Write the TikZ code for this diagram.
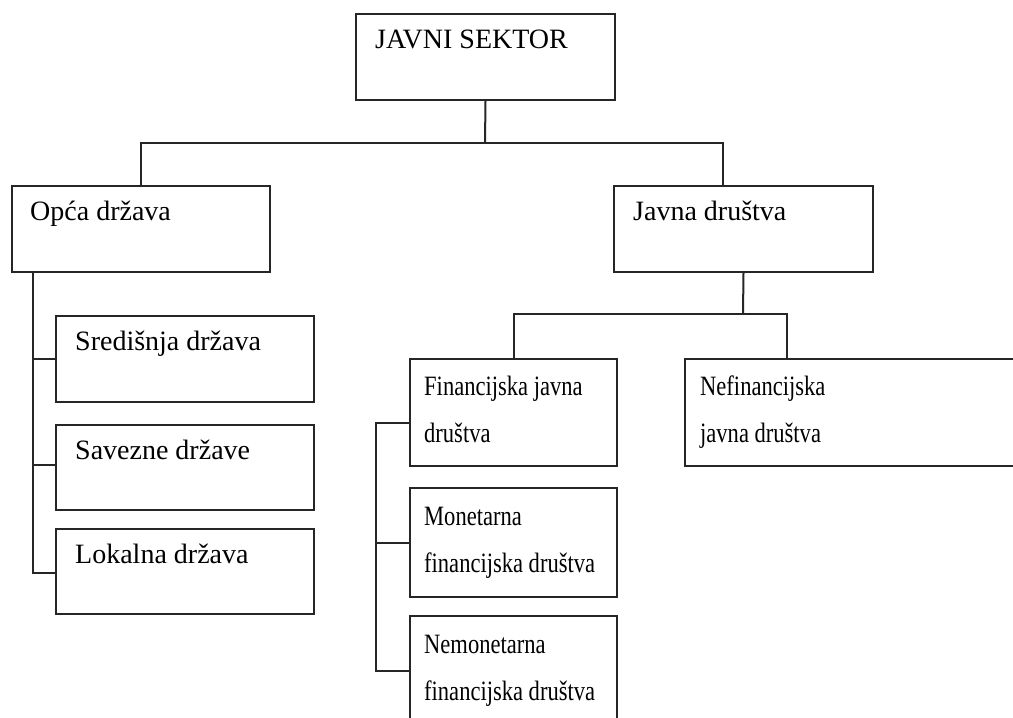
\documentclass[tikz,border=0pt]{standalone}
\usepackage{fontspec}
\setmainfont{Liberation Serif}
\newfontfamily\condser[FakeStretch=0.805]{Liberation Serif}
\usetikzlibrary{calc}
\begin{document}
\begin{tikzpicture}[x=1pt,y=-1pt,
  box/.style={draw=black!85,line width=2pt,rectangle,inner sep=0pt,anchor=north west},
  txt/.style={anchor=base west,inner sep=0pt,align=left,font=\fontsize{28}{47}\selectfont},
  ctxt/.style={txt,font=\condser\fontsize{28}{47}\selectfont},
  conn/.style={draw=black!85,line width=2pt}]
\clip (0,0) rectangle (1013,718);
\fill[white] (0,0) rectangle (1013,718);
% boxes
\node[box,minimum width=259pt,minimum height=86pt] (js) at (355,13) {};
\node[box,minimum width=258pt,minimum height=86pt] (og) at (11,185) {};
\node[box,minimum width=259pt,minimum height=86pt] (jd) at (613,185) {};
\node[box,minimum width=258pt,minimum height=86pt] (sd) at (55,315) {};
\node[box,minimum width=258pt,minimum height=85pt] (sv) at (55,424) {};
\node[box,minimum width=258pt,minimum height=85pt] (lk) at (55,528) {};
\node[box,minimum width=207pt,minimum height=107pt] (fj) at (409,358) {};
\node[box,minimum width=360pt,minimum height=107pt] (nf) at (684,358) {};
\node[box,minimum width=207pt,minimum height=109pt] (mn) at (409,487) {};
\node[box,minimum width=207pt,minimum height=130pt] (nm) at (409,615) {};
% texts
\node[txt] (tjs) at (375,48) {JAVNI SEKTOR};
\node[txt] (tog) at (30,220) {Opća država};
\node[txt] (tjd) at (633,220) {Javna društva};
\node[txt] (tsd) at (75,350) {Središnja država};
\node[txt] (tsv) at (75,459) {Savezne države};
\node[txt] (tlk) at (75,563) {Lokalna država};
\node[ctxt] (tfj) at (424,442) {Financijska javna\\društva};
\node[ctxt] (tnf) at (700,442) {Nefinancijska\\javna društva};
\node[ctxt] (tmn) at (424,572) {Monetarna\\financijska društva};
\node[ctxt] (tnm) at (424,700) {Nemonetarna\\financijska društva};
% connector coordinates
\coordinate (t1) at (485,143);
\coordinate (t2) at (743,314);
\coordinate (sp1) at (33,271);
\coordinate (sp2) at (376,423);
\coordinate (svc) at ([yshift=-41pt]sv.north west);
\coordinate (lkc) at ([yshift=-45pt]lk.north west);
\coordinate (fjc) at ([yshift=-65pt]fj.north west);
\coordinate (mnc) at ([yshift=-56pt]mn.north west);
\coordinate (nmc) at ([yshift=-56pt]nm.north west);
% top level
\draw[conn] (js.south) -- (t1);
\draw[conn] (og.north) |- (t1) -| ([xshift=-20.5pt]jd.north);
% javna drustva
\draw[conn] (jd.south) -- (t2);
\draw[conn] (fj.north) |- (t2) -| ([xshift=103pt]nf.north west);
% left spine
\draw[conn] (sp1) |- (lkc);
\draw[conn] (sd.west) -- (sd.west -| sp1);
\draw[conn] (svc) -- (svc -| sp1);
% right spine
\draw[conn] (fjc) -- (sp2) |- (nmc);
\draw[conn] (mnc) -- (mnc -| sp2);
\end{tikzpicture}
\end{document}
